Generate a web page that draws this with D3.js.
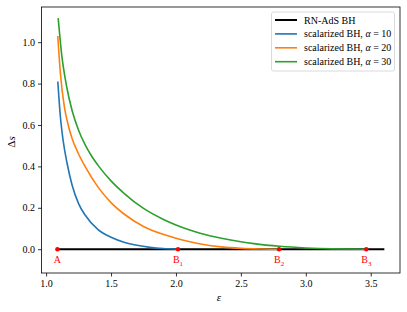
<!DOCTYPE html>
<html>
<head>
<meta charset="utf-8">
<script src="https://cdn.jsdelivr.net/npm/d3@7"></script>
<style>
  body { margin: 0; background: #fff; }
  text { font-family: "Liberation Serif", "DejaVu Serif", serif; }
</style>
</head>
<body>
<svg id="chart" width="407" height="312"></svg>
<script>
// curves: [epsilon, delta s]
const blueData = [
  [1.09, 0.81], [1.11, 0.64], [1.13, 0.53], [1.16, 0.42], [1.2, 0.31],
  [1.25, 0.22], [1.3, 0.165], [1.4, 0.095], [1.5, 0.058], [1.6, 0.034],
  [1.7, 0.019], [1.8, 0.009], [1.9, 0.003], [2.016, 0]
];
const orangeData = [
  [1.09, 1.03], [1.11, 0.85], [1.14, 0.69], [1.17, 0.6], [1.2, 0.535],
  [1.25, 0.46], [1.3, 0.4], [1.4, 0.3], [1.5, 0.225], [1.6, 0.17],
  [1.75, 0.11], [1.9, 0.072], [2.0, 0.053], [2.1, 0.037], [2.2, 0.024],
  [2.35, 0.011], [2.5, 0.004], [2.65, 0.001], [2.794, 0]
];
const greenData = [
  [1.093, 1.116], [1.12, 0.94], [1.16, 0.78], [1.2, 0.67], [1.25, 0.575],
  [1.3, 0.505], [1.35, 0.45], [1.4, 0.405], [1.5, 0.33], [1.6, 0.27],
  [1.75, 0.197], [1.9, 0.145], [2.0, 0.117], [2.1, 0.094], [2.2, 0.075],
  [2.35, 0.053], [2.5, 0.036], [2.6, 0.027], [2.8, 0.014], [3.0, 0.006],
  [3.2, 0.0015], [3.466, 0]
];
const rnData = [[1.09, 0], [3.605, 0]];

const pointNames = ['A', 'B', 'B', 'B'];
const pointSubs = ['', '1', '2', '3'];
const pointX = [1.087, 2.016, 2.794, 3.466];

const seriesNames = ['RN-AdS BH', 'scalarized BH, ', 'scalarized BH, ', 'scalarized BH, '];
const alphaValues = [null, 10, 20, 30];
const seriesColors = ['#000000', '#1f77b4', '#ff7f0e', '#2ca02c'];

const xTicks = [1.0, 1.5, 2.0, 2.5, 3.0, 3.5];
const yTicks = [0.0, 0.2, 0.4, 0.6, 0.8, 1.0];

// frame in pixels
const plotLeft = 41.5, plotRight = 400, plotTop = 7, plotBottom = 273;

const svg = d3.select('#chart');

const x = d3.scaleLinear().domain([0.9645, 3.7255]).range([plotLeft, plotRight]);
const y = d3.scaleLinear().domain([-0.115, 1.17]).range([plotBottom, plotTop]);

// axes
const xAxis = d3.axisBottom(x).tickValues(xTicks).tickSize(3.5).tickPadding(3)
  .tickFormat(d3.format('.1f'));
const yAxis = d3.axisLeft(y).tickValues(yTicks).tickSize(3.5).tickPadding(3)
  .tickFormat(d3.format('.1f'));

svg.append('g').attr('transform', `translate(0,${plotBottom})`).call(xAxis)
  .call(g => g.select('.domain').remove());
svg.append('g').attr('transform', `translate(${plotLeft},0)`).call(yAxis)
  .call(g => g.select('.domain').remove());

svg.selectAll('.tick text')
  .attr('font-family', '"Liberation Serif", serif')
  .attr('font-size', 10)
  .attr('fill', '#000');
svg.selectAll('.tick line').attr('stroke', '#000').attr('stroke-width', 0.8);

// lines
const line = d3.line()
  .x(d => x(d[0]))
  .y(d => y(d[1]))
  .curve(d3.curveMonotoneX);

const allSeries = [rnData, blueData, orangeData, greenData];
allSeries.forEach((data, i) => {
  svg.append('path')
    .datum(data)
    .attr('d', line)
    .attr('fill', 'none')
    .attr('stroke', seriesColors[i])
    .attr('stroke-width', i === 0 ? 2 : 1.6);
});

// red points and labels
pointX.forEach((px, i) => {
  svg.append('circle')
    .attr('cx', x(px))
    .attr('cy', y(0))
    .attr('r', 2.2)
    .attr('fill', '#ff0000');
  const t = svg.append('text')
    .attr('x', x(px))
    .attr('y', y(0) + 14)
    .attr('text-anchor', 'middle')
    .attr('font-size', 10)
    .attr('fill', '#ff0000')
    .text(pointNames[i]);
  if (pointSubs[i]) {
    t.append('tspan')
      .attr('font-size', 7)
      .attr('dy', 2.5)
      .text(pointSubs[i]);
  }
});

// frame
svg.append('rect')
  .attr('x', plotLeft).attr('y', plotTop)
  .attr('width', plotRight - plotLeft).attr('height', plotBottom - plotTop)
  .attr('fill', 'none')
  .attr('stroke', '#000')
  .attr('stroke-width', 0.8);

// axis labels
svg.append('text')
  .attr('x', x(2.33))
  .attr('y', 301)
  .attr('text-anchor', 'middle')
  .attr('font-size', 11)
  .attr('font-style', 'italic')
  .text('ε');

const yl = svg.append('text')
  .attr('transform', `translate(15,${(plotTop + plotBottom) / 2 + 2}) rotate(-90)`)
  .attr('text-anchor', 'middle')
  .attr('font-size', 11);
yl.append('tspan').text('Δ');
yl.append('tspan').attr('font-style', 'italic').text('s');

// legend
const lg = svg.append('g');
lg.append('rect')
  .attr('x', 271.5).attr('y', 12)
  .attr('width', 123).attr('height', 59)
  .attr('rx', 2)
  .attr('fill', '#fff')
  .attr('fill-opacity', 0.8)
  .attr('stroke', '#d0d0d0')
  .attr('stroke-width', 0.8);

seriesNames.forEach((name, i) => {
  const ly = 20 + i * 13.9;
  lg.append('line')
    .attr('x1', 275).attr('x2', 297)
    .attr('y1', ly).attr('y2', ly)
    .attr('stroke', seriesColors[i])
    .attr('stroke-width', i === 0 ? 2 : 1.6);
  const t = lg.append('text')
    .attr('x', 304)
    .attr('y', ly + 3.5)
    .attr('font-size', 10)
    .text(name);
  if (alphaValues[i] !== null) {
    t.append('tspan').attr('font-style', 'italic').text('α');
    t.append('tspan').text(' = ' + alphaValues[i]);
  }
});
</script>
</body>
</html>
